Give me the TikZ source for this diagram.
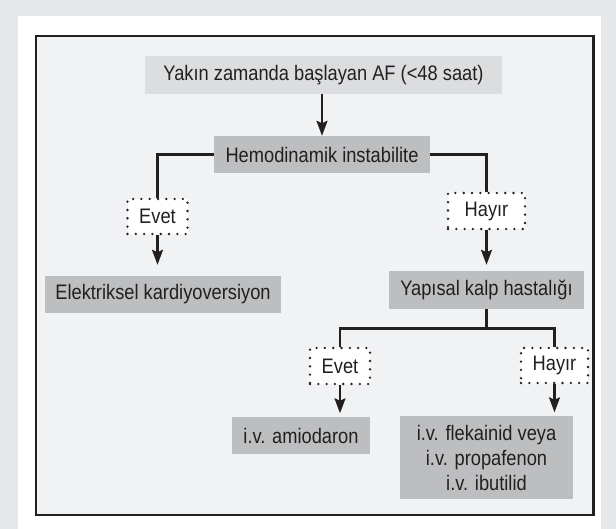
\documentclass[tikz,border=0pt]{standalone}
\usepackage{fontspec}
\setmainfont[FakeStretch=0.87]{Liberation Sans}
\usetikzlibrary{arrows.meta}

\definecolor{pagegray}{HTML}{E6E7E8}
\definecolor{framefill}{HTML}{F1F2F4}
\definecolor{lightbox}{HTML}{DCDDDF}
\definecolor{midbox}{HTML}{BCBEC0}
\definecolor{ink}{HTML}{231F20}

\newcommand{\boxfont}{\fontsize{21}{25}\selectfont}

\tikzset{
  basebox/.style={inner sep=0pt, text=ink, font=\boxfont, align=center},
  softbox/.style={basebox, fill=lightbox},
  graybox/.style={basebox, fill=midbox},
  answerbox/.style={basebox, fill=white, draw=ink, line width=2.6pt,
    dash pattern=on 0pt off 8.3pt, line cap=round},
  link/.style={draw=ink, line width=2.2pt},
  arrowlink/.style={link, -{Stealth[length=15pt,width=11pt,inset=2.5pt]}}
}

\begin{document}
\begin{tikzpicture}[x=1pt,y=-1pt]
  \useasboundingbox (0,0) rectangle (616,529);
  % page background, white sheet and framed panel
  \fill[pagegray] (0,0) rectangle (616,529);
  \fill[white] (18,16) rectangle (601,529);
  \draw[draw=ink, line width=2.2pt, fill=framefill] (36,36) rectangle (593.5,515);

  % decision nodes
  \node[softbox, minimum width=357.5pt, minimum height=37.5pt] (start) at (323.5,75) {Yakın zamanda başlayan AF (<48 saat)};
  \node[graybox, minimum width=216pt, minimum height=37pt] (hemo) at (322,154.5) {Hemodinamik instabilite};
  \node[answerbox, minimum width=60pt, minimum height=35pt] (yes1) at (157.5,216.5) {Evet};
  \node[answerbox, minimum width=77pt, minimum height=36pt] (no1) at (486.5,211) {Hayır};
  \node[graybox, minimum width=236pt, minimum height=37pt] (cardio) at (163,294.5) {Elektriksel kardiyoversiyon};
  \node[graybox, minimum width=195pt, minimum height=38pt] (struct) at (486.5,290) {Yapısal kalp hastalığı};
  \node[answerbox, minimum width=60pt, minimum height=36pt] (yes2) at (340,366) {Evet};
  \node[answerbox, minimum width=67pt, minimum height=35pt] (no2) at (554.5,365.5) {Hayır};
  \node[graybox, minimum width=138pt, minimum height=37pt] (amio) at (301,435.5) {i.v. amiodaron};
  \node[graybox, minimum width=173pt, minimum height=83pt] (drugs) at (486.5,457.5)
    {i.v. flekainid veya\\i.v. propafenon\\i.v. ibutilid};

  \coordinate (split) at (486.5,328.5);

  % connectors
  \draw[arrowlink] (start.south -| hemo.north) -- (hemo.north);
  \draw[link] (hemo.west) -| (yes1.north);
  \draw[link] (hemo.east) -| (no1.north);
  \draw[arrowlink, shorten >=11pt] (yes1.south) -- (yes1.south |- cardio.north);
  \draw[arrowlink, shorten >=6pt] (no1.south) -- (struct.north);
  \draw[link] (struct.south) -- (split);
  \draw[link] (yes2.north) |- (no2.north |- split) -- (no2.north);
  \draw[arrowlink, shorten >=3.5pt] (yes2.south) -- (yes2.south |- amio.north);
  \draw[arrowlink, shorten >=3.5pt] (no2.south) -- (no2.south |- drugs.north);
\end{tikzpicture}
\end{document}
